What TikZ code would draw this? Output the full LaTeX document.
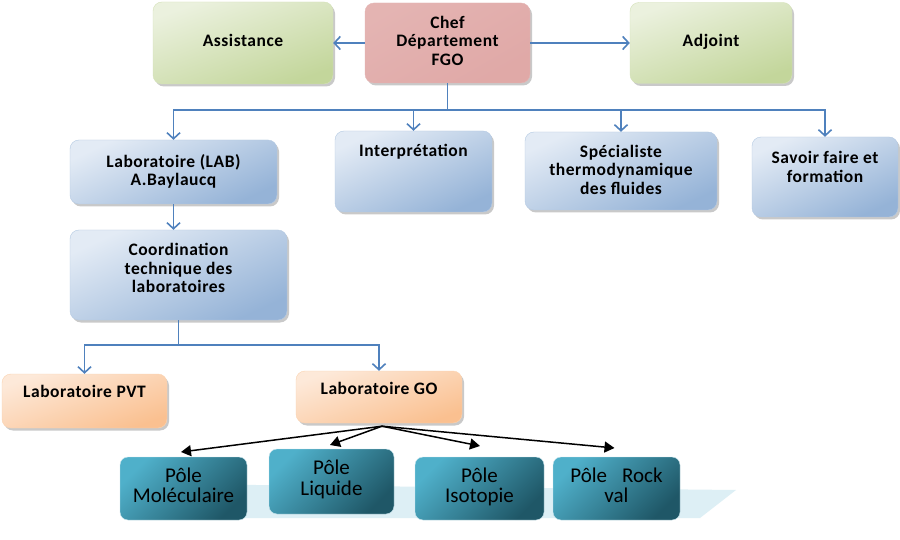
\documentclass[tikz,border=0pt]{standalone}
\usepackage{fontspec}
\setmainfont{Carlito}
\newfontfamily\bfont[LetterSpace=3]{Carlito}
\usetikzlibrary{arrows.meta,shadows,calc}
\definecolor{lnblue}{HTML}{4F81BD}
\definecolor{gL}{HTML}{EBF1DE}\definecolor{gD}{HTML}{C3D69B}
\definecolor{rL}{HTML}{F4E0DF}\definecolor{rD}{HTML}{D99694}
\definecolor{bL}{HTML}{E3EBF5}\definecolor{bD}{HTML}{95B3D7}
\definecolor{oL}{HTML}{FDE9D9}\definecolor{oD}{HTML}{FAC090}
\definecolor{tL}{HTML}{4FB0CA}\definecolor{tD}{HTML}{1F5767}
\definecolor{bandc}{HTML}{D5ECF3}
\newcommand\tx[2]{\raisebox{\dimexpr#1pt-6.5pt\relax}[0pt][0pt]{\begin{tabular}{@{}c@{}}#2\end{tabular}}}
\tikzset{
  base/.style={rounded corners=9pt, inner sep=0pt,
    drop shadow={shadow xshift=2pt,shadow yshift=-2.5pt,opacity=.35,fill=black!60},
    font=\bfont\bfseries\fontsize{17.5}{18.5}\selectfont},
  greenbox/.style={base, left color=gL, right color=gD, shading angle=20, draw=gD!70!white},
  redbox/.style={base, left color=rD!60!rL, middle color=rL, right color=rD!75!rL, shading angle=30, draw=rD!70!white},
  bluebox/.style={base, left color=bL, right color=bD, shading angle=25, draw=bD!70!white},
  orangebox/.style={base, left color=oL, right color=oD, shading angle=20, draw=oD!70!white},
  polebox/.style={rounded corners=8pt, inner sep=0pt, top color=tL, bottom color=tD, shading angle=45,
    draw=white!70!tL, font=\fontsize{21}{20.5}\selectfont, text=black,
    minimum width=127pt, minimum height=63pt},
  conn/.style={draw=lnblue, line width=1.7pt, -{Straight Barb[length=6pt,width=13pt,line width=1.6pt]}},
  bline/.style={draw=lnblue, line width=1.7pt},
  blk/.style={draw=black, line width=1.5pt, -{Triangle[length=10pt,width=11pt]}}
}
\begin{document}
\begin{tikzpicture}[x=1pt,y=-1pt]
\useasboundingbox (0,0) rectangle (900,540);
\fill[white] (0,0) rectangle (900,540);
% reflection band
\fill[bandc, opacity=.8] (130,518) -- (700,518) -- (736,490) -- (160,484) -- cycle;
% top row
\node[greenbox, minimum width=180pt, minimum height=82pt] (assist) at (243,43) {\tx{2}{Assistance}};
\node[redbox, minimum width=165pt, minimum height=80pt] (chef) at (447.5,43) {\tx{2}{Chef\\Département\\FGO}};
\node[greenbox, minimum width=162pt, minimum height=81pt] (adj) at (711,43) {\tx{2}{Adjoint}};
% second row
\node[bluebox, minimum width=207pt, minimum height=64pt] (lab) at (173.5,172) {\tx{1.5}{Laboratoire (LAB)\\A.Baylaucq}};
\node[bluebox, minimum width=157pt, minimum height=81pt] (interp) at (413.5,171.5) {\tx{20.5}{Interprétation}};
\node[bluebox, minimum width=192pt, minimum height=78pt] (spec) at (621,171) {\tx{1}{Spécialiste\\thermodynamique\\des fluides}};
\node[bluebox, minimum width=146pt, minimum height=80pt] (savoir) at (825,177) {\tx{10}{Savoir faire et\\formation}};
% coordination
\node[bluebox, minimum width=217pt, minimum height=90pt] (coord) at (178.5,275) {\tx{6.5}{Coordination\\technique des\\laboratoires}};
% labs
\node[orangebox, minimum width=165pt, minimum height=54pt] (pvt) at (84.5,401) {\tx{9}{Laboratoire PVT}};
\node[orangebox, minimum width=166pt, minimum height=52pt] (go) at (379,397) {\tx{8}{Laboratoire GO}};
% poles
\node[polebox] (mol) at (183.5,488.5) {\tx{1.5}{Pôle\\Moléculaire}};
\node[polebox, minimum width=125pt, minimum height=65pt] (liq) at (331.5,481.5) {\tx{2}{Pôle\\Liquide}};
\node[polebox, minimum width=129pt] (iso) at (479.5,488.5) {\tx{1.5}{Pôle\\Isotopie}};
\node[polebox] (rock) at (616.5,488.5) {\tx{1.5}{Pôle\hspace{15pt}Rock\\val}};
% blue connectors
\draw[conn] (chef.west) -- (assist.east);
\draw[conn] (chef.east) -- (adj.west);
\coordinate (j1) at ($(chef.south)+(0,27)$);
\draw[bline] (chef.south) -- (j1);
\draw[conn] (j1) -| (lab.north);
\draw[conn] (j1) -| (interp.north);
\draw[conn] (j1) -| (spec.north);
\draw[conn] (j1) -| (savoir.north);
\draw[conn] (lab.south) -- (lab.south |- coord.north);
\coordinate (j2) at ($(coord.south)+(0,25)$);
\draw[bline] (coord.south) -- (j2);
\draw[conn] (j2) -| (pvt.north);
\draw[conn] (j2) -| (go.north);
% black arrows
\coordinate (o) at ($(go.south)+(3,3)$);
\coordinate (tm) at (181,452);
\coordinate (tl) at (330,445);
\coordinate (ti) at (480,446);
\coordinate (tr) at (614.5,448);
\draw[blk] (o) -- (tm);
\draw[blk] (o) -- (tl);
\draw[blk] (o) -- (ti);
\draw[blk] (o) -- (tr);
\end{tikzpicture}
\end{document}
